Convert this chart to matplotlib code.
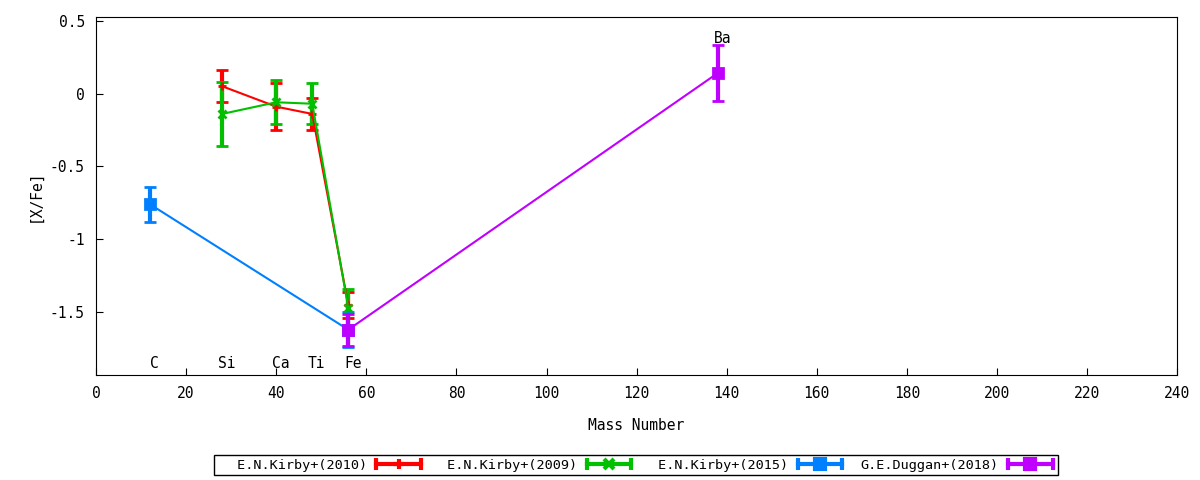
import matplotlib
matplotlib.use("Agg")
import matplotlib.pyplot as plt
from matplotlib.lines import Line2D
from matplotlib.patches import Rectangle
from matplotlib.legend_handler import HandlerBase

# ==========================
# Data
# ==========================
elements = ["C", "Si", "Ca", "Ti", "Fe", "Ba"]
element_mass = [12, 28, 40, 48, 56, 138]

kirby2010_x = [28, 40, 48, 56]
kirby2010_y = [0.05, -0.09, -0.14, -1.45]
kirby2010_err = [0.11, 0.16, 0.11, 0.09]

kirby2009_x = [28, 40, 48, 56]
kirby2009_y = [-0.14, -0.06, -0.07, -1.47]
kirby2009_err = [0.22, 0.15, 0.14, 0.13]

kirby2015_x = [12, 56]
kirby2015_y = [-0.76, -1.62]
kirby2015_err = [0.12, 0.12]

duggan2018_x = [56, 138]
duggan2018_y = [-1.62, 0.14]
duggan2018_err = [0.11, 0.19]

labels = ["E.N.Kirby+(2010)", "E.N.Kirby+(2009)", "E.N.Kirby+(2015)", "G.E.Duggan+(2018)"]
colors = ["#ff0000", "#00c000", "#0080ff", "#c000ff"]
markers = ["+", "x", "s", "s"]

# ==========================
# Style
# ==========================
plt.rcParams["font.family"] = "DejaVu Sans Mono"
plt.rcParams["font.size"] = 10
plt.rcParams["axes.unicode_minus"] = False


class ErrHandler(HandlerBase):
    # gnuplot-like key sample: line with caps at both ends and point in middle
    def create_artists(self, legend, orig_handle, xdescent, ydescent,
                       width, height, fontsize, trans):
        c = orig_handle.get_color()
        m = orig_handle.get_marker()
        y = height / 2 - ydescent
        x0, x1 = -xdescent, width - xdescent
        line = Line2D([x0, x1], [y, y], color=c, lw=3)
        caps = Line2D([x0, x1], [y, y], ls="none", marker="|", ms=8, mew=3, color=c)
        mid = Line2D([(x0 + x1) / 2], [y], ls="none", marker=m, ms=7, mew=3, color=c)
        for a in (line, caps, mid):
            a.set_transform(trans)
        return [line, caps, mid]


fig = plt.figure(figsize=(12, 4.8), dpi=100)
ax = fig.add_axes([0.08, 0.219, 0.901, 0.745])

series = [
    (kirby2010_x, kirby2010_y, kirby2010_err),
    (kirby2009_x, kirby2009_y, kirby2009_err),
    (kirby2015_x, kirby2015_y, kirby2015_err),
    (duggan2018_x, duggan2018_y, duggan2018_err),
]

handles = []
for (x, y, e), lab, c, m in zip(series, labels, colors, markers):
    ms = 7 if m == "s" else 6
    ax.errorbar(x, y, yerr=e, color=c, lw=1.5, elinewidth=3,
                capsize=4, capthick=3, marker=m, ms=ms, mew=2)
    handles.append(Line2D([], [], color=c, marker=m, label=lab))

# element labels
for name, mass in zip(elements, element_mass):
    ypos = 0.38 if name == "Ba" else -1.85
    ax.text(mass + 1, ypos, name, ha="center", va="center", fontsize=10.5)

ax.set_xlim(0, 240)
ax.set_ylim(-1.93, 0.523)
ax.set_xticks(range(0, 241, 20))
ax.set_yticks([-1.5, -1, -0.5, 0, 0.5])
ax.set_yticklabels(["-1.5", "-1", "-0.5", "0", "0.5"])
ax.tick_params(direction="in", length=5, labelsize=10.5, pad=8)
ax.set_xlabel("Mass Number", fontsize=10.5, labelpad=12)
ax.set_ylabel("[X/Fe]", fontsize=10.5, labelpad=5)

# key box drawn separately, like gnuplot's
fig.patches.append(Rectangle((214 / 1200, 5 / 480), 844 / 1200, 20 / 480,
                             transform=fig.transFigure, fill=False,
                             edgecolor="black", lw=1))
# right-justified key text (monospace, so pad with spaces)
width = max(len(s) for s in labels)
key_labels = [s.rjust(width) for s in labels]
fig.legend(handles=handles, labels=key_labels, handler_map={Line2D: ErrHandler()},
           ncol=4, markerfirst=False, loc="center left",
           bbox_to_anchor=(222 / 1200, 15 / 480), frameon=False, borderpad=0,
           handlelength=3.3, columnspacing=1.38, handletextpad=0.7, fontsize=9.7)

fig.savefig("out.png", dpi=100)
